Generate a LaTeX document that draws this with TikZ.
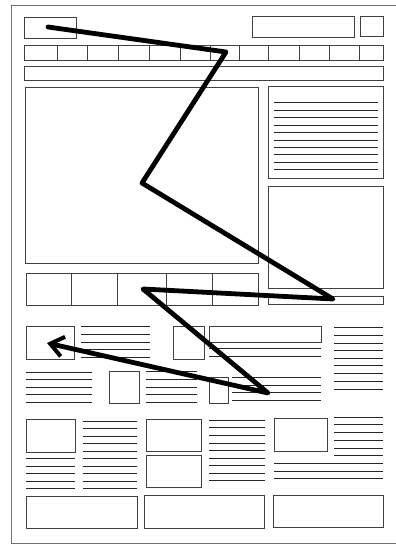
\documentclass[tikz,border=0pt]{standalone}
\usetikzlibrary{arrows.meta}
\begin{document}
\begin{tikzpicture}[x=1pt, y=-1pt,
  page/.style={draw=black!55, line width=0.8pt},
  frame/.style={draw=black!75, line width=0.8pt},
  txt/.style={draw=black!85, line width=1pt},
  scan/.style={line width=4.8pt, line cap=round, line join=round,
               -{Straight Barb[length=13pt, width=20pt, line width=4pt]}}
]
  \useasboundingbox (0,0) rectangle (396,544);
  \draw[page] (400,5) -- (11,5) -- (11,543) -- (400,543);

  \draw[frame] (24,17) rectangle (76,38);
  \draw[frame] (252,16) rectangle (354,37);
  \draw[frame] (360,16) rectangle (383,36);

  \draw[frame] (24,45) rectangle (383,60);
  \foreach \x in {57,87,118,149,180,210,239,268,299,329,359}
    \draw[frame] (\x,45) -- (\x,60);
  \draw[frame] (24,66) rectangle (383,80);

  \draw[frame] (25,87) rectangle (258,263);
  \draw[frame] (268,86) rectangle (383,178);
  \foreach \y in {102,110,117,125,132,140,147,154,162,169}
    \draw[txt] (274,\y) -- (378,\y);
  \draw[frame] (268,186) rectangle (383,288);
  \draw[frame] (268,296) rectangle (383,304);
  \draw[frame] (26,273) rectangle (258,305);
  \foreach \x in {71,117,166,212}
    \draw[frame] (\x,273) -- (\x,305);

  \draw[frame] (26,326) rectangle (74,359);
  \foreach \y in {326,334,342,349,357}
    \draw[txt] (81,\y) -- (150,\y);
  \draw[frame] (173,326) rectangle (204,359);
  \draw[frame] (209,326) rectangle (321,342);
  \foreach \y in {348,356}
    \draw[txt] (209,\y) -- (321,\y);
  \foreach \y in {327,335,343,350,358,365,373,381,389}
    \draw[txt] (334,\y) -- (383,\y);
  \foreach \y in {372,379,387,394,402}
    \draw[txt] (26,\y) -- (92,\y);
  \draw[frame] (109,371) rectangle (139,403);
  \foreach \y in {371,379,387,394,402}
    \draw[txt] (146,\y) -- (197,\y);
  \draw[frame] (209,377) rectangle (228,403);
  \foreach \y in {377,385,392,400}
    \draw[txt] (232,\y) -- (321,\y);

  \draw[frame] (26,419) rectangle (75,452);
  \foreach \y in {458,466,473,481,488}
    \draw[txt] (26,\y) -- (75,\y);
  \foreach \y in {421,428,436,443,451,458,466,473,481,488}
    \draw[txt] (83,\y) -- (137,\y);
  \draw[frame] (146,419) rectangle (201,451);
  \draw[frame] (146,455) rectangle (201,487);
  \foreach \y in {420,427,435,443,450,458,465,473,480}
    \draw[txt] (209,\y) -- (265,\y);
  \draw[frame] (274,418) rectangle (327,451);
  \foreach \y in {417,424,432,440,448,455}
    \draw[txt] (334,\y) -- (383,\y);
  \foreach \y in {463,471,478}
    \draw[txt] (274,\y) -- (383,\y);

  \draw[frame] (26,496) rectangle (137,528);
  \draw[frame] (144,495) rectangle (264,528);
  \draw[frame] (273,495) rectangle (383,527);

  \coordinate (z1) at (48,27);
  \coordinate (z2) at (226,52);
  \coordinate (z3) at (142,183);
  \coordinate (z4) at (333,299);
  \coordinate (z5) at (143,289);
  \coordinate (z6) at (268,393);
  \coordinate (z7) at (47,343);
  \draw[scan] (z1) -- (z2) -- (z3) -- (z4) -- (z5) -- (z6) -- (z7);
\end{tikzpicture}
\end{document}
